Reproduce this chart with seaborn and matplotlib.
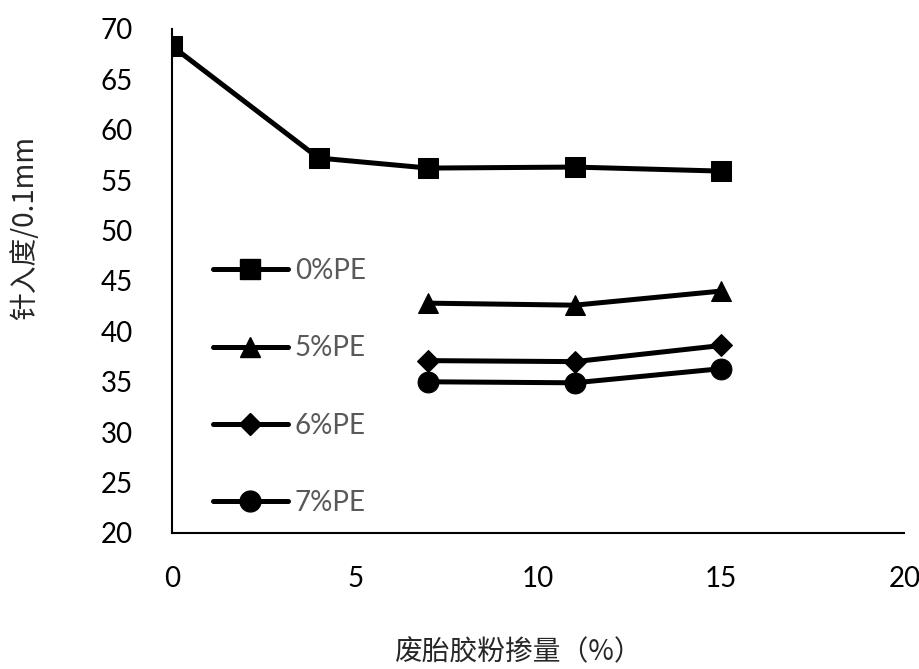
import matplotlib
matplotlib.use("Agg")
import matplotlib.pyplot as plt
import seaborn as sns
import pandas as pd
from matplotlib.lines import Line2D

# Penetration of modified asphalt vs. crumb rubber content
series_names = ["0%PE", "5%PE", "6%PE", "7%PE"]
x_0pe = [0, 4, 7, 11, 15]
y_0pe = [68.3, 57.2, 56.2, 56.3, 55.9]
x_pe = [7, 11, 15]
y_5pe = [42.8, 42.6, 44.0]
y_6pe = [37.1, 37.0, 38.6]
y_7pe = [35.0, 34.9, 36.3]
marker_map = {"0%PE": "s", "5%PE": "^", "6%PE": "D", "7%PE": "o"}
marker_size = {"0%PE": 14, "5%PE": 15, "6%PE": 11, "7%PE": 15}

x_ticks = [0, 5, 10, 15, 20]
y_ticks = [20, 25, 30, 35, 40, 45, 50, 55, 60, 65, 70]

frames = [
    pd.DataFrame({"x": x_0pe, "y": y_0pe, "series": "0%PE"}),
    pd.DataFrame({"x": x_pe, "y": y_5pe, "series": "5%PE"}),
    pd.DataFrame({"x": x_pe, "y": y_6pe, "series": "6%PE"}),
    pd.DataFrame({"x": x_pe, "y": y_7pe, "series": "7%PE"}),
]
df = pd.concat(frames, ignore_index=True)

sns.set_style("white")
plt.rcParams["font.family"] = ["Lato", "Noto Sans CJK SC", "DejaVu Sans"]

fig = plt.figure(figsize=(9.2, 6.69), dpi=100)
ax = fig.add_axes([0.187, 0.2033, 0.796, 0.7534])

for name in series_names:
    sub = df[df["series"] == name]
    sns.lineplot(data=sub, x="x", y="y", ax=ax, color="black", linewidth=3.6,
                 marker=marker_map[name], markersize=marker_size[name],
                 markeredgecolor="black", markerfacecolor="black",
                 label=name, legend=False)

ax.set_xlim(0, 20)
ax.set_ylim(20, 70)
ax.set_xticks(x_ticks)
ax.set_yticks(y_ticks)
ax.tick_params(axis="both", direction="in", length=8, width=1.5,
               labelsize=20, colors="black")
ax.tick_params(axis="y", pad=28)
ax.tick_params(axis="x", pad=24)
for s in ["top", "right"]:
    ax.spines[s].set_visible(False)
for s in ["left", "bottom"]:
    ax.spines[s].set_linewidth(1.5)
    ax.spines[s].set_color("black")
ax.grid(False)

ax.set_xlabel("")
ax.set_ylabel("")
fig.text(0.564, 0.025, "废胎胶粉掺量（%）", ha="center", va="center",
         fontsize=20, family=["Noto Sans CJK SC", "DejaVu Sans"])
fig.text(0.027, 0.66, "针入度/0.1mm", ha="center", va="center", rotation=90,
         fontsize=20, family=["Noto Sans CJK SC", "DejaVu Sans"])

handles = [Line2D([0], [0], color="black", linewidth=3.6, marker=marker_map[n],
                  markersize=marker_size[n], markerfacecolor="black",
                  markeredgecolor="black") for n in series_names]
leg = ax.legend(handles, series_names, loc="upper left",
                bbox_to_anchor=(0.2315, 0.6143), bbox_transform=fig.transFigure,
                frameon=False, fontsize=20, labelspacing=1.85, handlelength=2.7,
                handletextpad=0.25, borderpad=0, borderaxespad=0)
for t in leg.get_texts():
    t.set_color("#595959")

fig.savefig("out.png", dpi=100)
